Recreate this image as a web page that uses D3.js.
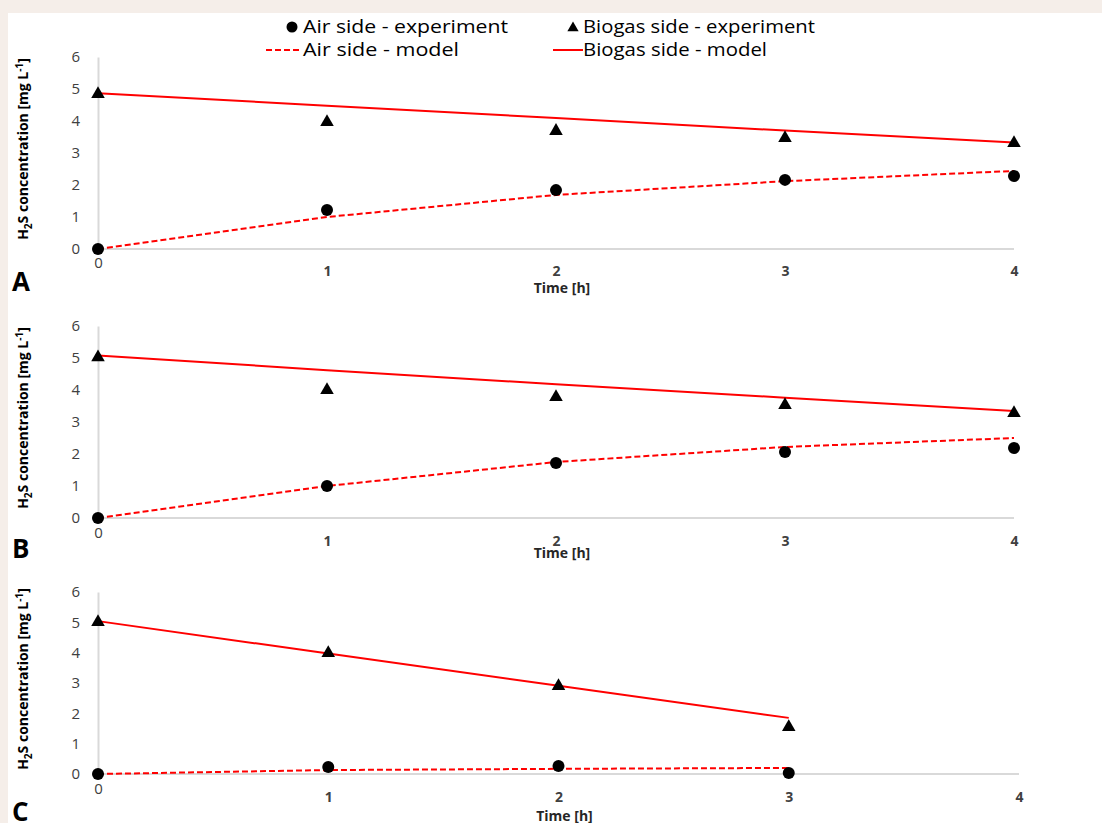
<!DOCTYPE html>
<html><head><meta charset="utf-8">
<script src="https://cdn.jsdelivr.net/npm/d3@7"></script>
<style>
html,body{margin:0;padding:0;background:#f5eee9;}
svg{display:block;}
text{font-family:"Open Sans",sans-serif;}
</style></head><body>
<svg id="c" width="1102" height="823"></svg>
<script>
// ---- data ----
const panelLabels = ["A", "B", "C"];
const timesA = [0, 1, 2, 3, 4];
const timesB = [0, 1, 2, 3, 4];
const timesC = [0, 1, 2, 3];
const airExpA = [0, 1.22, 1.84, 2.16, 2.28];
const biogasExpA = [4.87, 4.0, 3.72, 3.5, 3.34];
const airModelA = [0, 1.0, 1.69, 2.12, 2.44];
const biogasModelA = [4.87, 4.48, 4.09, 3.7, 3.33];
const airExpB = [0, 1.0, 1.72, 2.06, 2.19];
const biogasExpB = [5.05, 4.03, 3.81, 3.56, 3.31];
const airModelB = [0, 1.0, 1.75, 2.22, 2.5];
const biogasModelB = [5.08, 4.62, 4.18, 3.76, 3.34];
const airExpC = [0, 0.23, 0.26, 0.03];
const biogasExpC = [5.04, 4.02, 2.93, 1.58];
const airModelC = [0, 0.13, 0.17, 0.2];
const biogasModelC = [5.04, 3.97, 2.91, 1.85];
const yTicks = [0, 1, 2, 3, 4, 5, 6];
const xTicks = [0, 1, 2, 3, 4];
const legendLabels = ["Air side - experiment", "Biogas side - experiment", "Air side - model", "Biogas side - model"];
const xTitle = "Time [h]";

const panels = [
  {label: panelLabels[0], t: timesA, ae: airExpA, be: biogasExpA, am: airModelA, bm: biogasModelA,
   x0: 98, x1: 1014, yTop: 57, yBot: 249, tickY: 272, titleY: 293, letterY: 291},
  {label: panelLabels[1], t: timesB, ae: airExpB, be: biogasExpB, am: airModelB, bm: biogasModelB,
   x0: 98, x1: 1014, yTop: 326, yBot: 518, tickY: 542, titleY: 558, letterY: 558},
  {label: panelLabels[2], t: timesC, ae: airExpC, be: biogasExpC, am: airModelC, bm: biogasModelC,
   x0: 98, x1: 1019, yTop: 592, yBot: 774, tickY: 798, titleY: 821, letterY: 821}
];

const svg = d3.select("#c");
svg.append("rect").attr("x", 8).attr("y", 13).attr("width", 1094).attr("height", 810).attr("fill", "#ffffff");

const red = "#ff0000";
const tri = d3.symbol().type(d3.symbolTriangle).size(80);

panels.forEach(p => {
  const x = d3.scaleLinear().domain([0, 4]).range([p.x0, p.x1]);
  const y = d3.scaleLinear().domain([0, 6]).range([p.yBot, p.yTop]);
  const g = svg.append("g");

  // y axis
  const ya = g.append("g").attr("transform", `translate(${p.x0},0)`)
    .call(d3.axisLeft(y).tickValues(yTicks).tickFormat(d3.format("d")).tickSize(0).tickPadding(18));
  ya.select(".domain").attr("stroke", "#d9d9d9").attr("stroke-width", 2);
  ya.selectAll("text").attr("font-size", 15).attr("fill", "#404040");

  // x axis
  const xa = g.append("g").attr("transform", `translate(0,${p.yBot})`)
    .call(d3.axisBottom(x).tickValues(xTicks).tickFormat(d3.format("d")).tickSize(0).tickPadding(0));
  xa.select(".domain").attr("stroke", "#d9d9d9").attr("stroke-width", 2).attr("d", `M${p.x0},0H${p.x1}`);
  xa.selectAll("text").attr("fill", "#404040")
    .attr("y", d => p.tickY - p.yBot - (d === 0 ? 9 : 0)).attr("dy", "0.32em")
    .attr("font-size", d => d === 0 ? 15 : 14)
    .attr("font-weight", d => d === 0 ? "normal" : "bold");

  // x title
  g.append("text").attr("x", x(2) + 6).attr("y", p.titleY).attr("text-anchor", "middle")
    .attr("font-size", 14).attr("font-weight", "bold").attr("fill", "#262626").text(xTitle);

  // panel letter
  g.append("text").attr("x", 12).attr("y", p.letterY).attr("font-size", 26).attr("font-weight", "bold")
    .attr("font-family", "'Liberation Sans',sans-serif").attr("fill", "#000").text(p.label);

  // y title
  const yc = (p.yTop + p.yBot) / 2 - 4;
  const yt = g.append("text").attr("transform", `translate(28,${yc}) rotate(-90)`)
    .attr("text-anchor", "middle").attr("font-size", 14).attr("font-weight", "bold").attr("fill", "#000");
  yt.append("tspan").text("H");
  yt.append("tspan").attr("font-size", 10).attr("dy", 4).text("2");
  yt.append("tspan").attr("dy", -4).text("S concentration [mg L");
  yt.append("tspan").attr("font-size", 10).attr("dy", -5).text("-1");
  yt.append("tspan").attr("dy", 5).text("]");

  const line = (vals) => d3.line().x((d, i) => x(p.t[i])).y(d => y(d))(vals);
  g.append("path").attr("d", line(p.bm)).attr("fill", "none").attr("stroke", red).attr("stroke-width", 2);
  g.append("path").attr("d", line(p.am)).attr("fill", "none").attr("stroke", red).attr("stroke-width", 2)
    .attr("stroke-dasharray", "6,3");

  g.selectAll(".be").data(p.be).enter().append("path")
    .attr("d", tri).attr("transform", (d, i) => `translate(${x(p.t[i])},${y(d) + 1})`).attr("fill", "#000");
  g.selectAll(".ae").data(p.ae).enter().append("circle")
    .attr("cx", (d, i) => x(p.t[i])).attr("cy", d => y(d)).attr("r", 6).attr("fill", "#000");
});

// legend
const lg = svg.append("g").attr("font-size", 18).attr("fill", "#000");
const lw = [205, 232, 156, 184];
lg.append("circle").attr("cx", 292).attr("cy", 27).attr("r", 5.5).attr("fill", "#000");
lg.append("text").attr("x", 303).attr("y", 27).attr("dy", "0.35em").attr("textLength", lw[0]).attr("lengthAdjust", "spacingAndGlyphs").text(legendLabels[0]);
lg.append("path").attr("d", d3.symbol().type(d3.symbolTriangle).size(55)).attr("transform", "translate(573,28)").attr("fill", "#000");
lg.append("text").attr("x", 583).attr("y", 27).attr("dy", "0.35em").attr("textLength", lw[1]).attr("lengthAdjust", "spacingAndGlyphs").text(legendLabels[1]);
lg.append("line").attr("x1", 266).attr("x2", 302).attr("y1", 50).attr("y2", 50).attr("stroke", red).attr("stroke-width", 2).attr("stroke-dasharray", "6,3");
lg.append("text").attr("x", 303).attr("y", 50).attr("dy", "0.35em").attr("textLength", lw[2]).attr("lengthAdjust", "spacingAndGlyphs").text(legendLabels[2]);
lg.append("line").attr("x1", 553).attr("x2", 583).attr("y1", 50).attr("y2", 50).attr("stroke", red).attr("stroke-width", 2);
lg.append("text").attr("x", 583).attr("y", 50).attr("dy", "0.35em").attr("textLength", lw[3]).attr("lengthAdjust", "spacingAndGlyphs").text(legendLabels[3]);
</script></body></html>
